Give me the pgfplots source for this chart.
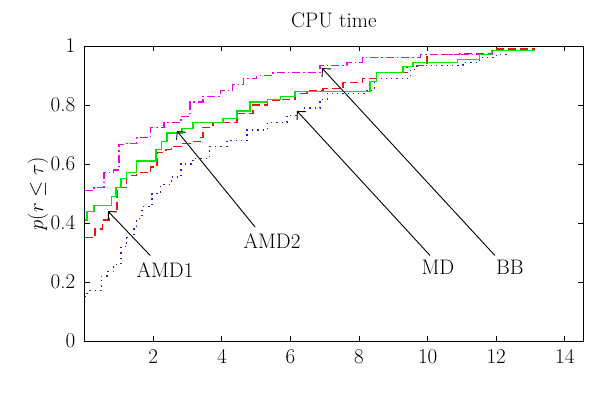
\documentclass[border=0pt]{standalone}
\usepackage{fontspec}
\usepackage{pgfplots}
\pgfplotsset{compat=1.18}
\usetikzlibrary{arrows.meta}
\definecolor{mgreen}{RGB}{0,230,0}
\definecolor{mred}{RGB}{235,20,20}
\definecolor{mblue}{RGB}{30,30,220}
\definecolor{mmag}{RGB}{240,0,240}
\begin{document}
\begin{tikzpicture}
\useasboundingbox (-84.7pt,-51pt) rectangle (515.3pt,341pt);
\begin{axis}[
  at={(0,0)}, anchor=south west,
  scale only axis, width=498.3pt, height=295pt,
  xmin=0, xmax=14.53, ymin=0, ymax=1,
  xtick={2,4,6,8,10,12,14},
  ytick={0,0.2,0.4,0.6,0.8,1},
  yticklabels={0,0.2,0.4,0.6,0.8,1},
  tick align=inside, major tick length=5pt,
  tick style={black, line width=0.8pt},
  axis line style={line width=0.9pt},
  font=\fontsize{21}{24}\selectfont,
  /pgf/number format/assume math mode=true,
  xticklabel style={yshift=-5pt},
  yticklabel style={xshift=-6pt},
  title={CPU time},
  title style={yshift=9pt},
  ylabel={$p(r\le\tau)$},
  ylabel style={at={(axis description cs:-0.094,0.5)}, anchor=center, font=\fontsize{20}{24}\selectfont},
]
% MD (blue dotted)
\addplot[const plot, mblue, line width=1.2pt, dash pattern=on 1.3pt off 4pt] coordinates {
(0,0.15) (0.07,0.17) (0.48,0.22) (0.65,0.235) (0.85,0.26) (1.06,0.32) (1.23,0.35)
(1.44,0.39) (1.52,0.415) (1.67,0.455) (1.96,0.50) (2.22,0.53) (2.52,0.556) (2.81,0.60)
(3.16,0.62) (3.65,0.66) (4.15,0.68) (4.73,0.715) (5.32,0.74) (5.9,0.765) (6.37,0.79)
(6.86,0.82) (7.07,0.84) (8.23,0.85) (8.46,0.89) (9.49,0.92) (9.69,0.935) (11.03,0.945)
(11.52,0.96) (12.0,0.97) (12.34,0.97)};
% AMD1 (red dashed)
\addplot[const plot, mred, line width=1.2pt, dash pattern=on 8pt off 4pt] coordinates {
(0,0.35) (0.3,0.38) (0.53,0.41) (0.71,0.44) (0.94,0.52) (1.23,0.56) (1.52,0.57)
(1.93,0.59) (2.11,0.64) (2.37,0.65) (2.52,0.66) (2.81,0.67) (3.07,0.675) (3.36,0.69)
(3.45,0.725) (3.74,0.74) (4.44,0.77) (4.91,0.80) (5.32,0.815) (5.7,0.82) (6.13,0.84)
(6.48,0.85) (6.95,0.855) (7.53,0.875) (8.11,0.89) (8.52,0.91) (9.4,0.93) (9.69,0.935)
(9.98,0.97) (10.94,0.975) (11.9,0.99) (13.13,0.99)};
% BB (magenta dash-dot)
\addplot[const plot, mmag, line width=1.2pt, dash pattern=on 8pt off 3pt on 1.5pt off 3pt] coordinates {
(0,0.51) (0.27,0.52) (0.56,0.57) (0.85,0.58) (1.0,0.665) (1.23,0.67) (1.52,0.69)
(1.93,0.725) (2.31,0.74) (2.81,0.76) (3.07,0.81) (3.45,0.83) (3.95,0.85) (4.32,0.87)
(4.62,0.89) (5.02,0.90) (5.49,0.91) (6.86,0.935) (7.65,0.945) (8.11,0.96) (9.78,0.97)
(11.9,0.985) (13.13,0.985)};
% AMD2 (green solid)
\addplot[const plot, mgreen, line width=1.2pt] coordinates {
(0,0.41) (0.07,0.44) (0.27,0.46) (0.77,0.49) (0.91,0.52) (1.06,0.55) (1.23,0.57)
(1.52,0.61) (2.08,0.65) (2.25,0.675) (2.40,0.705) (2.84,0.72) (3.16,0.74) (4.03,0.755)
(4.44,0.78) (4.82,0.81) (5.32,0.82) (5.7,0.83) (6.13,0.845) (8.32,0.88) (8.5,0.91)
(9.28,0.93) (9.57,0.945) (10.88,0.955) (11.52,0.97) (11.87,0.984) (13.13,0.984)};
% annotations
\draw[black, line width=0.9pt, -{Straight Barb[length=6pt,width=12pt]}] (axis cs:1.91,0.29) -- (axis cs:0.68,0.44);
\draw[black, line width=0.9pt, -{Straight Barb[length=6pt,width=12pt]}] (axis cs:4.97,0.386) -- (axis cs:2.69,0.712);
\draw[black, line width=0.9pt, -{Straight Barb[length=6pt,width=12pt]}] (axis cs:10.07,0.29) -- (axis cs:6.19,0.78);
\draw[black, line width=0.9pt, -{Straight Barb[length=6pt,width=12pt]}] (axis cs:11.96,0.29) -- (axis cs:6.92,0.925);
\node at (axis cs:2.34,0.24) {AMD1};
\node at (axis cs:5.46,0.34) {AMD2};
\node at (axis cs:10.3,0.25) {MD};
\node at (axis cs:12.4,0.25) {BB};
\end{axis}
\end{tikzpicture}
\end{document}
